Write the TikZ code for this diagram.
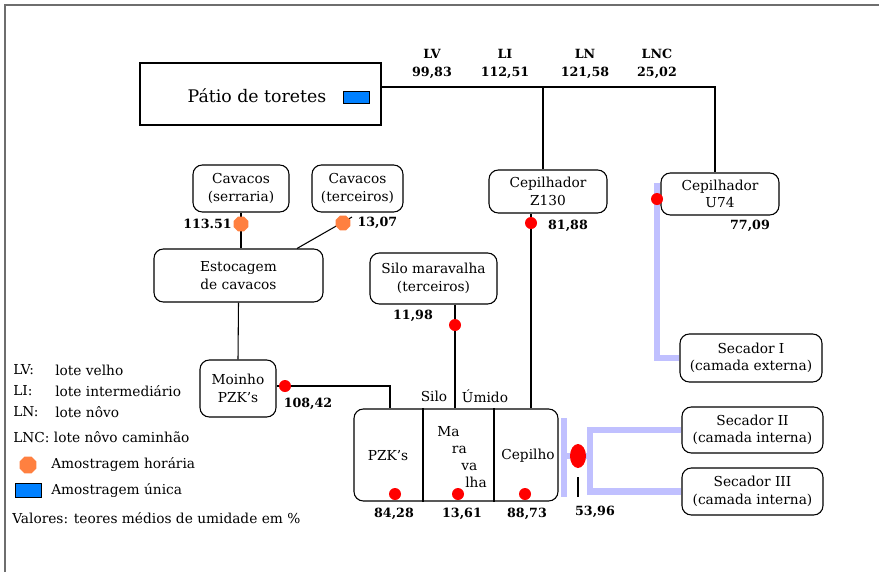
\documentclass[tikz,border=0pt]{standalone}
\usepackage{fontspec}
\setmainfont{DejaVu Serif}
\usepackage{tikz}
\usetikzlibrary{positioning,shapes.geometric,calc}

\definecolor{lavline}{RGB}{192,192,255}
\definecolor{hourly}{RGB}{255,128,64}
\definecolor{single}{RGB}{0,128,255}
\definecolor{framegray}{RGB}{110,110,110}

\begin{document}
\begin{tikzpicture}[
  x=0.75pt, y=-0.75pt,
  every node/.style={font=\fontsize{10.3}{13}\selectfont},
  box/.style={draw, rounded corners=7pt, line width=0.8pt, align=center, inner sep=1pt},
  val/.style={font=\fontsize{9.5}{13.5}\selectfont\bfseries, inner sep=0pt, align=center},
  lbl/.style={anchor=west, inner sep=0pt},
  hdot/.style={regular polygon, regular polygon sides=8, fill=hourly, inner sep=0pt, minimum size=12pt},
  rdot/.style={circle, fill=red, inner sep=0pt, minimum size=9pt},
  conn/.style={line width=0.8pt},
  lav/.style={line width=5pt, lavline},
]
\useasboundingbox (0,0) rectangle (879,572);
\draw[framegray, line width=1.5pt] (5,572) -- (5,5) -- (879,5);

% boxes
\node[draw, line width=0.8pt, minimum width=180.75pt, minimum height=46.5pt] (patio) at (260.5,94) {};
\node[font=\fontsize{13}{15}\selectfont] (patiotxt) at (257,96) {Pátio de toretes};
\node[draw, fill=single, line width=0.6pt, minimum width=20pt, minimum height=9pt, inner sep=0pt] (patiobox) at (356.5,97) {};
\node[box, minimum width=88.5pt, minimum height=32.25pt] (z130) at (548,191.5) {Cepilhador\\Z130};
\node[box, minimum width=88.5pt, minimum height=31.5pt] (u74) at (720,194) {Cepilhador\\U74};
\node[box, minimum width=72pt, minimum height=35.25pt] (serraria) at (241,188.5) {Cavacos\\(serraria)};
\node[box, minimum width=68.25pt, minimum height=35.25pt] (terceiros) at (357.5,188.5) {Cavacos\\(terceiros)};
\node[box, minimum width=126.75pt, minimum height=39.75pt] (estoc) at (238.5,275.5) {Estocagem\\de cavacos};
\node[box, minimum width=95.25pt, minimum height=38.25pt] (silomar) at (433.5,278.5) {Silo maravalha\\(terceiros)};
\node[box, minimum width=57pt, minimum height=42.75pt] (moinho) at (238,388.5) {Moinho\\PZK's};
\node[box, minimum width=106.5pt, minimum height=36pt] (sec1) at (751,358) {Secador I\\(camada externa)};
\node[box, minimum width=105.75pt, minimum height=34.5pt] (sec2) at (752.5,430) {Secador II\\(camada interna)};
\node[box, minimum width=105.75pt, minimum height=35.25pt] (sec3) at (752.5,491.5) {Secador III\\(camada interna)};
\node[box, minimum width=153pt, minimum height=69pt] (umido) at (456,455) {};
\coordinate (div1) at (423,0);
\coordinate (div2) at (494,0);
\draw[conn] (div1 |- umido.north) -- (div1 |- umido.south);
\draw[conn] (div2 |- umido.north) -- (div2 |- umido.south);
\node (pzk) at (388,456) {PZK's};
\node[align=left, anchor=north west, inner sep=0pt, font=\fontsize{10.3}{12.75}\selectfont] (marav) at (437,426)
  {Ma\\\hspace{11pt}ra\\\hspace{18pt}va\\\hspace{21pt}lha};
\node (cepilho) at (528,456) {Cepilho};

% lavender lines
\coordinate (ulav) at (657,183);
\draw[lav] (ulav) -- (ulav |- sec1.west) -- (sec1.west);
\coordinate (blav) at (564,418);
\coordinate (blavb) at (564,497);
\coordinate (bar) at (564,456);
\coordinate (fork) at (590,456);
\draw[lav] (blav) -- (blavb);
\draw[lav] (bar) -- (fork);
\draw[lav] (sec2.west) -| (fork) |- (sec3.west);

% black connectors
\coordinate (jn) at (543,87);
\coordinate (jr) at (715,87);
\draw[conn] (patio.east |- jn) -- (jr) -- (jr |- u74.north);
\draw[conn] (jn) -- (jn |- z130.north);
\coordinate (zx) at (531,0);
\draw[conn] (zx |- z130.south) -- (zx |- umido.north);
\coordinate (sx) at (455,0);
\draw[conn] (sx |- silomar.south) -- (sx |- umido.north);
\coordinate (mk) at (390,386);
\draw[conn] (moinho.east |- mk) -- (mk) -- (mk |- umido.north);
\coordinate (cx) at (241,0);
\draw[conn] (cx |- serraria.south) -- (cx |- estoc.north);
\coordinate (t3) at (352,217);
\coordinate (e3) at ($(estoc.north)+(58.5,0)$);
\draw[conn] (t3) -- (e3);
\draw[conn] (estoc.south) -- (moinho.north);

% sample points
\node[hdot] (o1) at (241,224) {};
\node[hdot] (o2) at (343,223) {};
\node[rdot] (r1) at (531,223) {};
\node[rdot] (r2) at (657,199) {};
\node[rdot] (r3) at (455,325) {};
\node[rdot] (r4) at (285,386) {};
\node[rdot] (r5) at (395,494) {};
\node[rdot] (r6) at (458,494) {};
\node[rdot] (r7) at (525,494) {};
\node[ellipse, fill=red, inner sep=0pt, minimum width=12pt, minimum height=18pt] (mix) at (578,456) {};
\coordinate (m2) at (578,497);
\draw[conn] ([yshift=-6.75pt]mix.south) -- (m2);

% values
\node[val] (lv) at (432,64) {LV\\99,83};
\node[val] (li) at (505,64) {LI\\112,51};
\node[val] (ln) at (585,64) {LN\\121,58};
\node[val] (lnc) at (657,64) {LNC\\25,02};
\node[val, left=1pt of o1] (v1) {113.51};
\node[val, right=5pt of o2] (v2) {13,07};
\node[val] (v3) at (568,226) {81,88};
\node[val] (v4) at (750,226) {77,09};
\node[val] (v5) at (413,316) {11,98};
\node[val] (v6) at (308,404) {108,42};
\node[val] (v7) at (394,514) {84,28};
\node[val] (v8) at (462,514) {13,61};
\node[val] (v9) at (527,514) {88,73};
\node[val] (v10) at (595,512) {53,96};
\node (silolbl) at (434,396) {Silo};
\node (umidolbl) at (485,396) {Úmido};

% legend
\node[lbl] (klv) at (13,370) {LV:};
\node[lbl] at (55,370) {lote velho};
\node[lbl] (kli) at (13,391) {LI:};
\node[lbl] at (55,391) {lote intermediário};
\node[lbl] (kln) at (13,412) {LN:};
\node[lbl] at (55,412) {lote nôvo};
\node[lbl] (klnc) at (13,437) {LNC: lote nôvo caminhão};
\node[hdot, minimum size=13.5pt] (khour) at (28,465) {};
\node[lbl] at (51,465) {Amostragem horária};
\node[draw, fill=single, line width=0.6pt, minimum width=19.5pt, minimum height=10.5pt, inner sep=0pt] (ksingle) at (28,490) {};
\node[lbl] at (51,491) {Amostragem única};
\node[lbl] (kval) at (12,518) {Valores: teores médios de umidade em \%};
\end{tikzpicture}
\end{document}
